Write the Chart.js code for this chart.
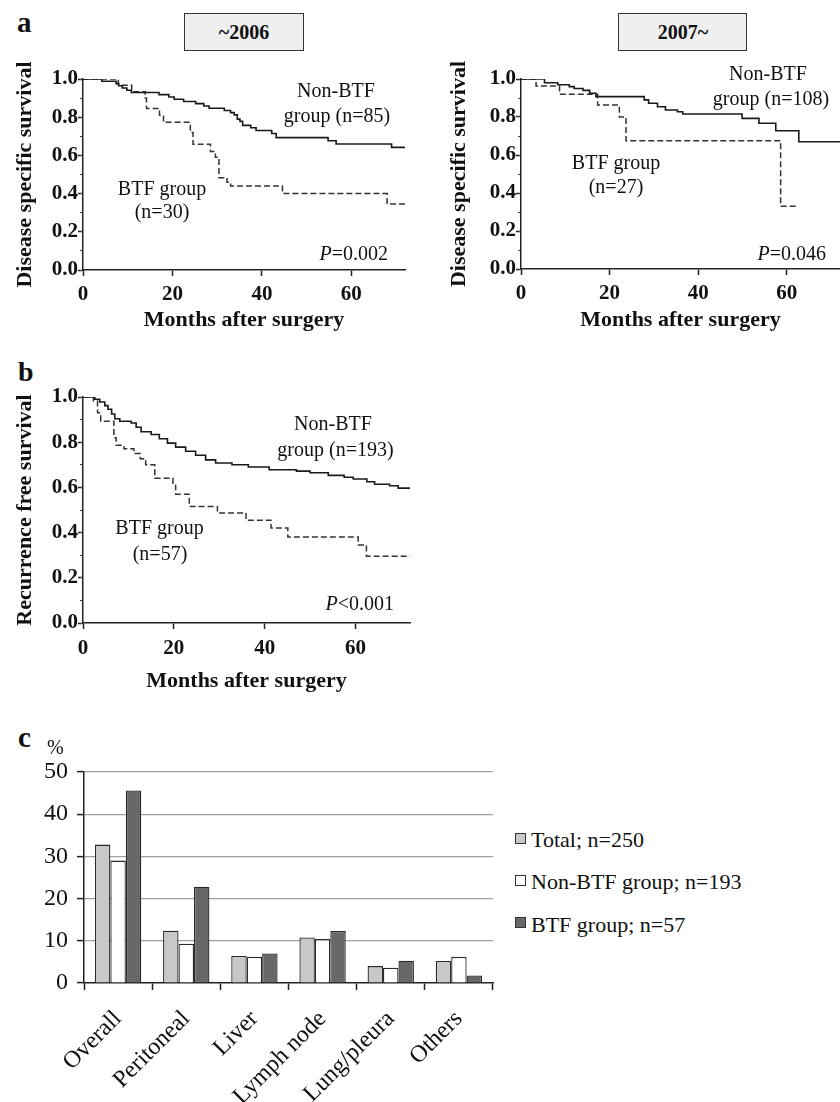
<!DOCTYPE html>
<html>
<head>
<meta charset="utf-8">
<script src="https://cdn.jsdelivr.net/npm/chart.js@4.4.1/dist/chart.umd.min.js"></script>
<style>
  html, body { margin:0; padding:0; background:#fff; }
  #page { position:relative; width:840px; height:1102px; overflow:hidden; background:#fff;
          font-family:'Liberation Serif','Times New Roman',serif; color:#111; }
  .t { position:absolute; white-space:nowrap; line-height:1; }
  .c { transform:translateX(-50%); }
  canvas { position:absolute; }
  .box { position:absolute; background:#efefef; border:1px solid #333; box-sizing:border-box; }
  .sw { position:absolute; width:11px; height:11px; border:1px solid #333; box-sizing:border-box; }
</style>
</head>
<body>
<div id="page">
  <div class="t" style="left:17px;top:8px;font-size:29px;font-weight:bold;">a</div>
  <div class="t" style="left:18px;top:358px;font-size:28px;font-weight:bold;">b</div>
  <div class="t" style="left:18px;top:723px;font-size:29px;font-weight:bold;">c</div>

  <div class="box" style="left:184px;top:13px;width:120px;height:38px;"></div>
  <div class="t c" style="left:244px;top:21.5px;font-size:20px;font-weight:bold;">~2006</div>
  <div class="box" style="left:618px;top:13px;width:129px;height:38px;"></div>
  <div class="t c" style="left:683px;top:21.5px;font-size:20px;font-weight:bold;">2007~</div>

  <canvas id="a1" width="420" height="290" style="left:0;top:60px;width:420px;height:290px;"></canvas>
  <canvas id="a2" width="420" height="290" style="left:420px;top:60px;width:420px;height:290px;"></canvas>
  <canvas id="b1" width="420" height="320" style="left:0;top:380px;width:420px;height:320px;"></canvas>
  <canvas id="c1" width="500" height="402" style="left:0;top:700px;width:500px;height:402px;"></canvas>

  <!-- panel a annotations -->
  <div class="t c" style="left:336px;top:80px;font-size:20px;">Non-BTF</div>
  <div class="t c" style="left:337px;top:105px;font-size:20px;">group (n=85)</div>
  <div class="t c" style="left:162px;top:178.3px;font-size:20px;">BTF group</div>
  <div class="t c" style="left:162px;top:200.5px;font-size:20px;">(n=30)</div>
  <div class="t" style="right:452px;top:242.5px;font-size:20px;"><i>P</i>=0.002</div>

  <div class="t c" style="left:768px;top:63.3px;font-size:20px;">Non-BTF</div>
  <div class="t c" style="left:771px;top:88.3px;font-size:20px;">group (n=108)</div>
  <div class="t c" style="left:616px;top:151.5px;font-size:20px;">BTF group</div>
  <div class="t c" style="left:616px;top:176px;font-size:20px;">(n=27)</div>
  <div class="t" style="right:14px;top:242.5px;font-size:20px;"><i>P</i>=0.046</div>

  <!-- panel b annotations -->
  <div class="t c" style="left:333px;top:412.5px;font-size:20px;">Non-BTF</div>
  <div class="t c" style="left:335.5px;top:439.3px;font-size:20px;">group (n=193)</div>
  <div class="t c" style="left:159.5px;top:517.3px;font-size:20px;">BTF group</div>
  <div class="t c" style="left:160px;top:543.3px;font-size:20px;">(n=57)</div>
  <div class="t" style="right:446px;top:592.5px;font-size:20px;"><i>P</i>&lt;0.001</div>

  <!-- panel c -->
  <div class="t" style="left:47px;top:737.3px;font-size:20px;">%</div>
  <div id="legend"></div>
</div>

<script>
// ---------------- DATA ----------------
// Panel a (~2006): Kaplan-Meier, disease specific survival
const a1NonTime = [0, 4.2, 7.4, 8.0, 8.8, 9.8, 10.8, 17.0, 19.2, 20.4, 22.5, 25.2, 27.0, 28.2, 31.6, 33.0, 33.8, 34.5, 35.1, 35.7, 37.5, 38.7, 42.2, 43.2, 54.8, 56.6, 69.0, 72];
const a1NonSurv = [1.0, 0.988, 0.976, 0.965, 0.953, 0.941, 0.929, 0.918, 0.906, 0.894, 0.882, 0.871, 0.859, 0.847, 0.835, 0.824, 0.812, 0.790, 0.778, 0.757, 0.745, 0.730, 0.715, 0.693, 0.677, 0.660, 0.642, 0.642];
const a1BtfTime = [0, 7.9, 10.9, 13.9, 14.2, 17.1, 18.0, 24.0, 24.6, 28.5, 29.6, 30.4, 32.2, 33.0, 44.6, 68.0, 72];
const a1BtfSurv = [1.0, 0.967, 0.933, 0.90, 0.846, 0.81, 0.773, 0.72, 0.658, 0.62, 0.59, 0.483, 0.46, 0.44, 0.40, 0.346, 0.346];

// Panel a (2007~)
const a2NonTime = [0, 5.3, 8.3, 10.9, 12.0, 14.0, 15.5, 16.9, 27.8, 28.8, 30.8, 32.6, 35.3, 36.5, 49.9, 53.7, 57.5, 62.7, 72];
const a2NonSurv = [1.0, 0.98, 0.97, 0.96, 0.95, 0.94, 0.925, 0.907, 0.89, 0.872, 0.854, 0.837, 0.828, 0.816, 0.793, 0.767, 0.728, 0.67, 0.67];
const a2BtfTime = [0, 3.4, 8.7, 17.3, 22.2, 23.7, 58.6, 62.2];
const a2BtfSurv = [1.0, 0.963, 0.92, 0.863, 0.80, 0.675, 0.33, 0.33];

// Panel b: recurrence free survival
const bNonTime = [0, 2.6, 3.7, 4.8, 5.5, 6.3, 7.0, 8.1, 10.6, 11.7, 12.8, 15.0, 16.8, 18.6, 20.4, 22.6, 24.8, 27.0, 29.2, 32.8, 36.4, 41.0, 47.0, 50.0, 54.0, 57.5, 59.5, 62.5, 64.2, 67.5, 69.4, 72];
const bNonSurv = [1.0, 0.99, 0.978, 0.962, 0.946, 0.925, 0.904, 0.893, 0.885, 0.866, 0.846, 0.834, 0.815, 0.796, 0.778, 0.760, 0.742, 0.722, 0.708, 0.700, 0.690, 0.678, 0.672, 0.665, 0.653, 0.645, 0.637, 0.625, 0.614, 0.607, 0.597, 0.597];
const bBtfTime = [0, 2.3, 3.2, 3.9, 6.8, 7.3, 9.0, 11.2, 12.6, 13.8, 15.8, 19.8, 20.4, 23.4, 29.6, 35.9, 41.4, 45.1, 60.6, 62.4, 72];
const bBtfSurv = [1.0, 0.982, 0.93, 0.893, 0.82, 0.786, 0.771, 0.75, 0.727, 0.70, 0.64, 0.61, 0.57, 0.516, 0.487, 0.455, 0.42, 0.38, 0.345, 0.295, 0.295];

// KM axis ticks
const kmXTicks = [0, 20, 40, 60];
const kmYTicks = [0, 0.2, 0.4, 0.6, 0.8, 1.0];
const kmYMinorTicks = [0, 0.1, 0.2, 0.3, 0.4, 0.5, 0.6, 0.7, 0.8, 0.9, 1.0];

// Panel c: recurrence site (%)
const recurCategories = ['Overall', 'Peritoneal', 'Liver', 'Lymph node', 'Lung/pleura', 'Others'];
const recurTotal  = [32.8, 12.4, 6.4, 10.8, 4.0, 5.2];
const recurNonBtf = [29.0, 9.3, 6.2, 10.4, 3.6, 6.2];
const recurBtf    = [45.6, 22.8, 7.0, 12.3, 5.3, 1.8];
const recurLabels = ['Total; n=250', 'Non-BTF group; n=193', 'BTF group; n=57'];
const recurYTicks = [0, 10, 20, 30, 40, 50];

// ---------------- DRAWING ----------------
const FONT = "'Liberation Serif','Times New Roman',serif";
Chart.defaults.font.family = FONT;
Chart.defaults.color = '#111';

function pts(t, s) { return t.map((x, i) => ({ x: x, y: s[i] })); }

function kmChart(id, o) {
  return new Chart(document.getElementById(id), {
    type: 'line',
    data: {
      datasets: [
        { data: pts(o.nonT, o.nonS), stepped: 'before', borderColor: '#1a1a1a', borderWidth: 1.6, pointRadius: 0, fill: false },
        { data: pts(o.btfT, o.btfS), stepped: 'before', borderColor: '#333', borderWidth: 1.5, borderDash: [6, 3], pointRadius: 0, fill: false }
      ]
    },
    options: {
      responsive: false, animation: false, events: [],
      layout: { padding: o.pad },
      plugins: { legend: { display: false }, tooltip: { enabled: false } },
      scales: {
        x: {
          type: 'linear', min: 0, max: 72,
          afterBuildTicks: s => { s.ticks = kmXTicks.map(v => ({ value: v })); },
          afterFit: s => { s.height = o.xH; },
          ticks: { font: { size: 21, weight: 'bold' }, color: '#111', padding: o.xTickPad, maxRotation: 0 },
          grid: { drawOnChartArea: false, drawTicks: true, tickLength: 6, tickColor: '#222', tickWidth: 1.5 },
          border: { color: '#222', width: 1.5 },
          title: { display: true, text: 'Months after surgery', font: { size: 22, weight: 'bold' }, color: '#111', padding: { top: 0, bottom: o.xTitlePad } }
        },
        y: {
          type: 'linear', min: 0, max: 1, position: 'left', weight: 1,
          afterBuildTicks: s => { s.ticks = kmYTicks.map(v => ({ value: v })); },
          afterFit: s => { s.width = o.yW; },
          ticks: { font: { size: 21, weight: 'bold' }, color: '#111', padding: 0, callback: v => Number(v).toFixed(1) },
          grid: { drawOnChartArea: false, drawTicks: true, tickLength: 5, tickColor: '#222', tickWidth: 1.5 },
          border: { color: '#222', width: 1.5 },
          title: { display: true, text: o.yTitle, font: { size: 22, weight: 'bold' }, color: '#111', padding: { top: o.yTitlePad, bottom: 0 } }
        },
        yMinor: {
          type: 'linear', min: 0, max: 1, position: 'left', weight: 0,
          afterBuildTicks: s => { s.ticks = kmYMinorTicks.map(v => ({ value: v })); },
          afterFit: s => { s.width = 0; },
          ticks: { display: false },
          grid: { drawOnChartArea: false, drawTicks: true, tickLength: 3, tickColor: '#444', tickWidth: 1 },
          border: { display: false }
        }
      }
    }
  });
}

kmChart('a1', { nonT: a1NonTime, nonS: a1NonSurv, btfT: a1BtfTime, btfS: a1BtfSurv,
  pad: { top: 19, right: 15, left: 0, bottom: 0 }, yW: 83, xH: 80, xTickPad: 6, xTitlePad: 16,
  yTitle: 'Disease specific survival', yTitlePad: 12 });
kmChart('a2', { nonT: a2NonTime, nonS: a2NonSurv, btfT: a2BtfTime, btfS: a2BtfSurv,
  pad: { top: 19, right: 0, left: 0, bottom: 0 }, yW: 101, xH: 81, xTickPad: 6, xTitlePad: 16,
  yTitle: 'Disease specific survival', yTitlePad: 26 });
kmChart('b1', { nonT: bNonTime, nonS: bNonSurv, btfT: bBtfTime, btfS: bBtfSurv,
  pad: { top: 17, right: 10, left: 0, bottom: 0 }, yW: 83, xH: 77, xTickPad: 7, xTitlePad: 5,
  yTitle: 'Recurrence free survival', yTitlePad: 12 });

const barFills = ['#c8c8c8', '#ffffff', '#686868'];
const barSeries = [recurTotal, recurNonBtf, recurBtf];

new Chart(document.getElementById('c1'), {
  type: 'bar',
  data: {
    labels: recurCategories,
    datasets: barSeries.map((d, i) => ({
      label: recurLabels[i], data: d, backgroundColor: barFills[i], borderColor: '#2a2a2a', borderWidth: 1.3,
      categoryPercentage: 0.68, barPercentage: 1.0
    }))
  },
  options: {
    responsive: false, animation: false, events: [],
    layout: { padding: { top: 72, right: 7, left: 0, bottom: 0 } },
    plugins: { legend: { display: false }, tooltip: { enabled: false } },
    scales: {
      x: {
        afterFit: s => { s.height = 119; },
        ticks: { font: { size: 24 }, color: '#111', minRotation: 45, maxRotation: 45, autoSkip: false, padding: 15 },
        grid: { drawOnChartArea: false, drawTicks: true, tickLength: 7, tickColor: '#222', tickWidth: 1.5, offset: true },
        border: { color: '#222', width: 1.5 }
      },
      y: {
        min: 0, max: 50,
        afterBuildTicks: s => { s.ticks = recurYTicks.map(v => ({ value: v })); },
        afterFit: s => { s.width = 84; },
        ticks: { font: { size: 24 }, color: '#111', padding: 9 },
        grid: { color: c => (c.tick && c.tick.value === 0) ? 'rgba(0,0,0,0)' : '#a0a0a0', lineWidth: 1.2,
                drawTicks: true, tickLength: 7, tickColor: '#222', tickWidth: 1.5 },
        border: { color: '#222', width: 1.5 }
      }
    }
  }
});

// legend (HTML text)
const legendTops = [828.6, 870.6, 913.6];
const swTops = [833, 875, 917];
const lg = document.getElementById('legend');
recurLabels.forEach((lab, i) => {
  const sw = document.createElement('div');
  sw.className = 'sw';
  sw.style.left = '515px'; sw.style.top = swTops[i] + 'px'; sw.style.background = barFills[i];
  lg.appendChild(sw);
  const tx = document.createElement('div');
  tx.className = 't';
  tx.style.left = '531px'; tx.style.top = legendTops[i] + 'px'; tx.style.fontSize = '22px';
  tx.textContent = lab;
  lg.appendChild(tx);
});
</script>
</body>
</html>
